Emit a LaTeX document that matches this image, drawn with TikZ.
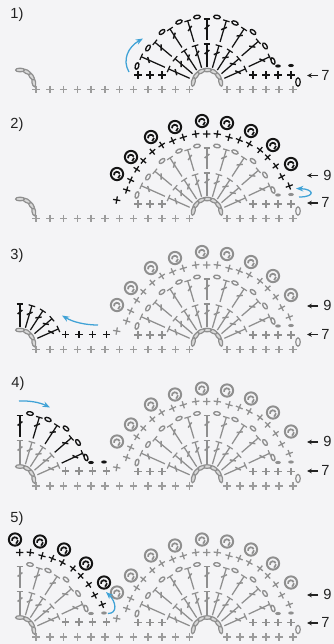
\documentclass[tikz,border=0pt]{standalone}
\usepackage{fontspec}
\setmainfont{Liberation Sans}
\usetikzlibrary{arrows.meta}
\definecolor{ink}{HTML}{141414}
\definecolor{gry}{HTML}{8F8F8F}
\definecolor{base}{HTML}{9C9C9C}
\definecolor{paper}{HTML}{F4F4F6}
\definecolor{blu}{HTML}{3FA2D6}
\definecolor{lbl}{HTML}{222222}
\tikzset{
  lab/.style={font=\fontsize{11pt}{12pt}\selectfont,text=lbl,inner sep=0pt},
  labarrow/.style={draw=lbl,line width=0.8pt,-{Stealth[length=3.6pt,width=3.4pt]}},
  bluearrow/.style={draw=blu,line width=0.95pt,-{Stealth[length=5.5pt,width=4.2pt]}},
}
\def\fx{207}\def\fy{86}
\newcommand\tst[4]{%
  \begin{scope}[rotate=#2-90]
    \pgfmathsetmacro\slA{#4-6}\pgfmathsetmacro\slB{#4-10}
    \draw[#1,line width=0.95pt] (0,-#4)--(0,-#3);
    \draw[#1,line width=0.9pt] (-3.4,-#4)--(3.4,-#4);
    \draw[#1,line width=1.1pt] (-2.4,-\slB)--(2.4,-\slA);
  \end{scope}}
\newcommand\pst[4][0]{%
  \pgfmathsetmacro\ang{#1*atan2(\fy-#4,#3-\fx)}%
  \begin{scope}[shift={(#3,#4)},rotate=\ang-#1*90]
    \draw[#2,line width=0.95pt] (-3.7,0)--(3.7,0) (0,-3.7)--(0,3.7);
  \end{scope}}
\newcommand\ovl[3]{%
  \pgfmathsetmacro\ang{atan2(\fy-#3,#2-\fx)}%
  \begin{scope}[shift={(#2,#3)},rotate=\ang-90]
    \draw[#1,line width=1pt] (0,0) ellipse [x radius=2.5pt,y radius=1.35pt];
  \end{scope}}
\newcommand\dotst[3]{\fill[#1] (#2,#3) ellipse [x radius=2.1pt,y radius=1.2pt];}
\newcommand\picring[3]{%
  \begin{scope}[shift={(#2,#3)}]
    \draw[#1,line width=1.5pt] (0,0) circle (4.6pt);
    \draw[#1,line width=1.3pt] (-3,1.2) arc[start angle=190,end angle=20,radius=2.2pt];
    \draw[#1,line width=1.3pt] (1.2,4.2) -- (3,0.8);
  \end{scope}}
\newcommand\aov[3]{%
  \begin{scope}[shift={(#1,85)}]
    \pgfmathsetmacro\ox{14*cos(#2)}\pgfmathsetmacro\oy{-15*sin(#2)}
    \begin{scope}[shift={(\ox,\oy)},rotate=#2-90]
      \filldraw[draw=gry,fill=#3,line width=0.9pt] (0,0) ellipse [x radius=3.3pt,y radius=1.4pt];
    \end{scope}
  \end{scope}}
\newcommand\archset[2]{\foreach \a in {#2}{\aov{#1}{\a}{gry!35}}}
\newcommand\innerfan[2]{%
  \begin{scope}[shift={(\fx,\fy)}]
    \foreach \a in {#2}{\tst{#1}{\a}{19}{42}}
  \end{scope}}
\newcommand\outerfan[2]{%
  \begin{scope}[shift={(\fx,\fy)}]
    \foreach \a/\r in {#2}{\tst{#1}{\a}{46}{\r}}
  \end{scope}}
\newcommand\ovset[2]{\foreach \x/\y in {#2}{\ovl{#1}{\x}{\y}}}
\newcommand\dotpair[1]{\dotst{#1}{278}{66}\dotst{#1}{291}{65.5}}
\newcommand\stset[2]{\foreach \x/\y in {#2}{\pst[1]{#1}{\x}{\y}}}
\newcommand\picset[2]{\foreach \x/\y in {#2}{\picring{#1}{\x}{\y}}}
\newcommand\Basepart{%
  \foreach \x in {36,50,63.5,77.5,91,105,119.5,133.5,148,162,175.5,189.5,227,240,253,266,279,293}{\pst{base}{\x}{89.5}}
  \archset{207}{12,38,64,90,116,142,168}
  \archset{20}{10,36,62,90}}
\newcommand\Motif[1]{%
  \foreach \x in {138,150,162,253,266,278,291}{\pst{#1}{\x}{75}}
  \innerfan{#1}{156,139.5,123,106.5,90,73.5,57,40.5,24}
  \outerfan{#1}{156/72,140/68,123/68,106.5/68,90/67,73.5/68,57/68,41/68,25/69}
  \ovset{#1}{137/66,148/48,162/32,179/22,197/17,217/17,235/23,253/32,265/46,273/61}
  \dotpair{#1}
  \draw[#1,line width=0.9pt] (298,82) ellipse [x radius=1.7pt,y radius=3.1pt];}
\newcommand\Crown[1]{%
  \stset{#1}{116.7/71,126.7/61,130.7/51,136.7/40.3,143.3/31.7,152.3/22.7,161.7/16,172.7/11.7,183.3/8.3,195.7/5,206.7/5,217.3/5,229/8.3,239.3/11,249.3/15,260/21,267.7/28.3,275.7/37,281.7/47.7,289.3/57}
  \picset{#1}{117/45,131/28,151/8,175/-2,202/-8,227/-6,251/2,273/16,291/35}}
\newcommand\LeftPlus[1]{\foreach \x in {65.5,79,92.5,106.5}{\pst{#1}{\x}{74.5}}}
\newcommand\LeftOuter[1]{%
  \outerfan{#1}{90/67,73.5/68,57/68,41/68,25/69}
  \ovset{#1}{217/17,235/23,253/32,265/46,273/61}
  \dotpair{#1}}
\begin{document}
\begin{tikzpicture}[x=0.75pt,y=-0.75pt]
\useasboundingbox (0,0) rectangle (334,644);
\fill[paper] (0,0) rectangle (334,644);
% ---------- row 1
\Basepart
\Motif{ink}
\node[lab] (n1) at (17,15) {1)};
\node[lab] (s1) at (325.5,75) {7};
\coordinate (s1a) at (318,75.5);\coordinate (s1b) at (307,75.5);
\draw[labarrow] (s1a)--(s1b);
\coordinate (b1a) at (129,72);\coordinate (b1b) at (143,38.5);
\draw[bluearrow] (b1a) .. controls (122,60) and (128,47) .. (b1b);
% ---------- row 2
\begin{scope}[shift={(0,129)}]
\Basepart
\Motif{gry}
\Crown{ink}
\node[lab] (n2) at (17,-4) {2)};
\node[lab] (s2) at (327.5,46) {9};
\coordinate (s2a) at (318,46.5);\coordinate (s2b) at (307,46.5);
\draw[labarrow] (s2a)--(s2b);
\node[lab] (s2c) at (325.5,73.5) {7};
\coordinate (s2d) at (318,74);\coordinate (s2e) at (307,74);
\draw[labarrow] (s2d)--(s2e);
\coordinate (b2a) at (299,68);\coordinate (b2b) at (296,59.5);
\draw[bluearrow] (b2a) .. controls (316,68) and (314,60) .. (b2b);
\end{scope}
% ---------- row 3
\begin{scope}[shift={(0,260)}]
\Basepart
\Motif{gry}
\Crown{gry}
\begin{scope}[shift={(-187,0)}]
\innerfan{ink}{90,73.5,57,40.5,24}
\end{scope}
\LeftPlus{ink}
\node[lab] (n3) at (17,-4) {3)};
\node[lab] (s3) at (327.5,45.5) {9};
\coordinate (s3a) at (318,46);\coordinate (s3b) at (307,46);
\draw[labarrow] (s3a)--(s3b);
\node[lab] (s3c) at (325.5,74) {7};
\coordinate (s3d) at (318,74.5);\coordinate (s3e) at (307,74.5);
\draw[labarrow] (s3d)--(s3e);
\coordinate (b3a) at (98,65);\coordinate (b3b) at (62,55.5);
\draw[bluearrow] (b3a) .. controls (85,65) and (73,62) .. (b3b);
\end{scope}
% ---------- row 4
\begin{scope}[shift={(0,396.5)}]
\Basepart
\Motif{gry}
\Crown{gry}
\begin{scope}[shift={(-187,0)}]
\innerfan{gry}{90,73.5,57,40.5,24}
\LeftOuter{ink}
\end{scope}
\LeftPlus{gry}
\node[lab] (n4) at (18,-13) {4)};
\node[lab] (s4) at (327.5,45) {9};
\coordinate (s4a) at (318,45.5);\coordinate (s4b) at (307,45.5);
\draw[labarrow] (s4a)--(s4b);
\node[lab] (s4c) at (325.5,74) {7};
\coordinate (s4d) at (318,74.5);\coordinate (s4e) at (307,74.5);
\draw[labarrow] (s4d)--(s4e);
\coordinate (b4a) at (19,4.5);\coordinate (b4b) at (50,11);
\draw[bluearrow] (b4a) .. controls (30,4) and (40,6) .. (b4b);
\end{scope}
% ---------- row 5
\begin{scope}[shift={(0,547.5)}]
\Basepart
\Motif{gry}
\Crown{gry}
\begin{scope}[shift={(-187,0)}]
\innerfan{gry}{90,73.5,57,40.5,24}
\LeftOuter{gry}
\stset{ink}{206.7/5,217.3/5,229/8.3,239.3/11,249.3/15,260/21,267.7/28.3,275.7/37,281.7/47.7,289.3/57}
\picset{ink}{202/-8,227/-6,251/2,273/16,291/35}
\end{scope}
\LeftPlus{gry}
\node[lab] (n5) at (17,-28.5) {5)};
\node[lab] (s5) at (327.5,47) {9};
\coordinate (s5a) at (318,47.5);\coordinate (s5b) at (307,47.5);
\draw[labarrow] (s5a)--(s5b);
\node[lab] (s5c) at (325.5,75) {7};
\coordinate (s5d) at (318,75.5);\coordinate (s5e) at (307,75.5);
\draw[labarrow] (s5d)--(s5e);
\coordinate (b5a) at (108,66);\coordinate (b5b) at (106,44.5);
\draw[bluearrow] (b5a) .. controls (118,66) and (116,54) .. (b5b);
\end{scope}
\end{tikzpicture}
\end{document}
